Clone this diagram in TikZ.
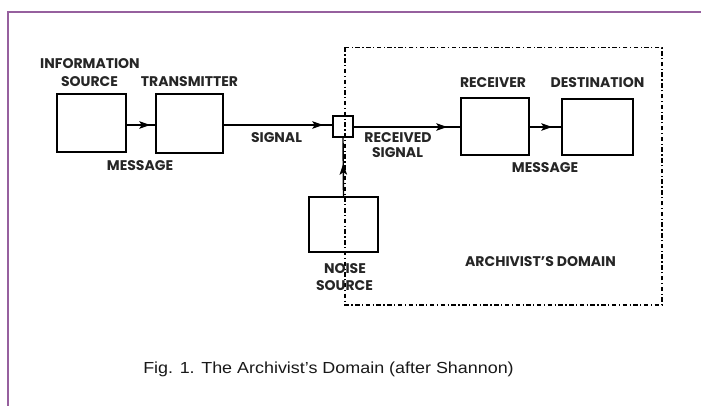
\documentclass[tikz,border=0pt]{standalone}
\usepackage{fontspec}
\setmainfont{Poppins}
\newfontfamily\capfont[FakeStretch=1.12]{Liberation Sans}
\usetikzlibrary{arrows.meta,decorations.markings}
\definecolor{framepurple}{RGB}{150,96,158}
\tikzset{
  blk/.style={draw=black,line width=1.5pt,minimum width=#1,inner sep=0pt},
  lbl/.style={font=\fontsize{14}{14}\selectfont\bfseries,inner sep=0pt,text=black!85},
  conn/.style={line width=1.4pt},
  tipat/.style={postaction={decorate},decoration={markings,
     mark=at position -#1 with {\arrow{Stealth[length=11pt 0,width=7.5pt 0,inset=2.5pt]}}}},
  domainline/.style={line width=1.2pt,dash pattern=on 4.5pt off 2.5pt on 1.2pt off 2.5pt},
}
\begin{document}
\begin{tikzpicture}[x=1pt,y=-1pt]
\useasboundingbox (0,0) rectangle (701,406);
\fill[white] (0,0) rectangle (701,406);
% frame
\draw[framepurple,line width=2pt] (7.5,406) -- (7.5,12.5) -- (701,12.5);
% boxes
\node[blk=69pt,minimum height=58pt] (src) at (91.5,123) {};
\node[blk=67pt,minimum height=59pt] (tx) at (189.5,123.5) {};
\node[blk=20pt,minimum height=21pt] (mix) at (343,126.5) {};
\node[blk=68pt,minimum height=57pt] (rx) at (495,126.5) {};
\node[blk=71pt,minimum height=56pt] (dst) at (597.5,127) {};
\node[blk=69pt,minimum height=55pt] (noise) at (343.5,224.5) {};
% connectors
\draw[conn,tipat=5pt] (src.east |- 0,125) -- (tx.west |- 0,125);
\draw[conn,tipat=9pt] (tx.east |- 0,125) -- (mix.west |- 0,125);
\draw[conn,tipat=13pt] (mix.east |- 0,127) -- (rx.west |- 0,127);
\draw[conn,tipat=9pt] (rx.east |- 0,127) -- (dst.west |- 0,127);
\draw[conn,tipat=26pt] (noise.north) -- (mix.south);
% domain
\coordinate (dtl) at (345,47.5);
\coordinate (dbr) at (662,305);
\draw[domainline] (dtl) rectangle (dbr);
% labels
\node[lbl] (l1) at (90,64) {INFORMATION};
\node[lbl] (l2) at (89.5,82) {SOURCE};
\node[lbl] (l3) at (189.5,82) {TRANSMITTER};
\node[lbl] (l4) at (140,166) {MESSAGE};
\node[lbl] (l5) at (276.5,138) {SIGNAL};
\node[lbl] (l6) at (398,138) {RECEIVED};
\node[lbl] (l7) at (397.5,153) {SIGNAL};
\node[lbl] (l8) at (493,83) {RECEIVER};
\node[lbl] (l9) at (597.5,83) {DESTINATION};
\node[lbl] (l10) at (545,168) {MESSAGE};
\node[lbl] (l11) at (345,269) {NOISE};
\node[lbl] (l12) at (344.5,286) {SOURCE};
\node[lbl] (l13) at (540.5,262) {ARCHIVIST'S DOMAIN};
\node[font=\capfont\fontsize{16}{16}\selectfont,inner sep=0pt,text=black!90] (cap) at (328.5,369) {Fig. 1. The Archivist’s Domain (after Shannon)};
\end{tikzpicture}
\end{document}
